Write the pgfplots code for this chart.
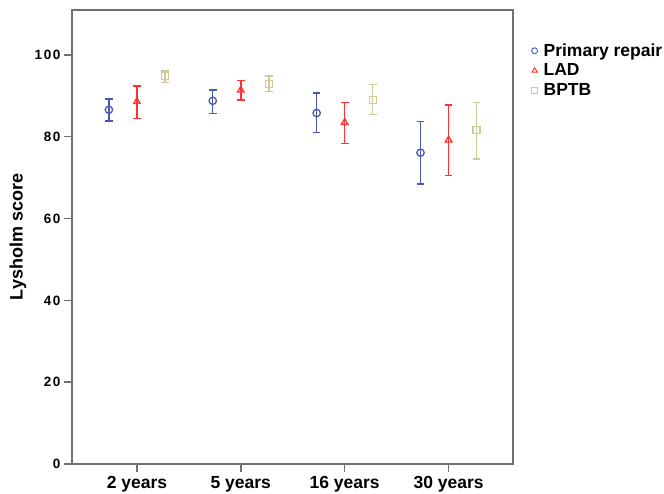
\documentclass[border=0pt]{standalone}
\usepackage{fontspec}
\setmainfont{Liberation Sans}
\usepackage{pgfplots}
\pgfplotsset{compat=1.18}
\definecolor{repairblue}{HTML}{4558B8}
\definecolor{ladred}{HTML}{FF3030}
\definecolor{bptbtan}{HTML}{CFCA92}
\definecolor{axisgray}{HTML}{707070}

\begin{document}
\begin{tikzpicture}[x=1pt,y=1pt]
\path[use as bounding box] (0,0) rectangle (664,494);
\begin{axis}[at={(72pt,30pt)},anchor=south west,
scale only axis,width=441pt,height=454pt,
xmin=-0.625,xmax=3.62,ymin=0,ymax=111,
xtick={0,1,2,3},xticklabels={2 years,5 years,16 years,30 years},
ytick={0,20,40,60,80,100},
axis line style={axisgray,line width=1.3pt},
every tick/.style={axisgray,line width=1.4pt},
major tick style={axisgray,line width=1.4pt},
tick align=outside,major tick length=8pt,
xtick pos=bottom,ytick pos=left,
/pgf/number format/assume math mode=true,
xticklabel style={font=\fontsize{17.5}{19}\selectfont\bfseries,yshift=-1pt},
yticklabel style={font=\fontsize{13.5}{15}\selectfont\bfseries\addfontfeatures{LetterSpace=12}},
ylabel={Lysholm score},
every axis y label/.style={at={(-54pt,0.5)},rotate=90,anchor=center,
  font=\fontsize{18}{20}\selectfont\bfseries},
legend style={at={(1.035,0.935)},anchor=north west,draw=none,fill=none,
  font=\fontsize{17.5}{19}\selectfont\bfseries,row sep=2pt,
  legend cell align=left,
  /tikz/every odd column/.append style={column sep=4pt}},
]
\addlegendimage{only marks,mark=o,mark size=3pt,repairblue,line width=0.9pt}
\addlegendentry{Primary repair}
\addlegendimage{only marks,mark=triangle,mark size=3pt,ladred,line width=0.9pt}
\addlegendentry{LAD}
\addlegendimage{only marks,mark=square,mark size=3pt,bptbtan,line width=0.9pt}
\addlegendentry{BPTB}

\addplot[forget plot,only marks,mark=o,mark size=3.7pt,repairblue,line width=1.3pt,
  error bars/.cd,y dir=both,y explicit,
  error bar style={repairblue,line width=1.4pt},
  error mark options={repairblue,line width=1.4pt,mark size=3.8pt,rotate=90}]
coordinates {
(-0.27,86.6) += (0,2.6) -= (0,2.7)
(0.73,88.8) += (0,2.6) -= (0,3.1)
(1.73,85.8) += (0,4.9) -= (0,4.7)
(2.73,76.1) += (0,7.6) -= (0,7.6)
};
\addplot[forget plot,only marks,mark=triangle,mark size=3.8pt,ladred,line width=1.3pt,
  error bars/.cd,y dir=both,y explicit,
  error bar style={ladred,line width=1.4pt},
  error mark options={ladred,line width=1.4pt,mark size=3.8pt,rotate=90}]
coordinates {
(0,88.6) += (0,3.8) -= (0,4.1)
(1,91.4) += (0,2.3) -= (0,2.4)
(2,83.5) += (0,4.9) -= (0,5.2)
(3,79.2) += (0,8.6) -= (0,8.7)
};
\addplot[forget plot,only marks,mark=square,mark size=3.5pt,bptbtan,line width=1.3pt,
  error bars/.cd,y dir=both,y explicit,
  error bar style={bptbtan,line width=1.4pt},
  error mark options={bptbtan,line width=1.4pt,mark size=3.8pt,rotate=90}]
coordinates {
(0.27,94.8) += (0,1.3) -= (0,1.5)
(1.27,92.9) += (0,2.0) -= (0,1.9)
(2.27,89.0) += (0,3.8) -= (0,3.6)
(3.27,81.6) += (0,6.8) -= (0,7.0)
};
\end{axis}
\end{tikzpicture}
\end{document}
